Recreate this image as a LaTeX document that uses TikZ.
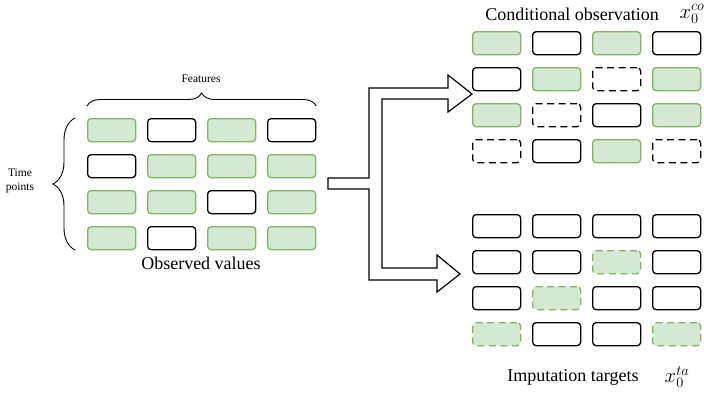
\documentclass[tikz,border=0pt]{standalone}
\usepackage{fontspec}
\setmainfont{Liberation Serif}
\usetikzlibrary{decorations.pathreplacing}

\definecolor{obsfill}{HTML}{D5E8D4}
\definecolor{obsline}{HTML}{82B366}

\tikzset{
  cellbase/.style={rectangle, rounded corners=3.5pt, minimum width=48pt, minimum height=23pt,
                   inner sep=0pt, anchor=north west, line width=1.3pt},
  cellg/.style={cellbase, draw=obsline, fill=obsfill},
  cellw/.style={cellbase, draw=black, fill=white},
  celld/.style={cellbase, draw=black, fill=white, dash pattern=on 7pt off 4.5pt},
  cellh/.style={cellbase, draw=obsline, fill=obsfill, dash pattern=on 7pt off 4.5pt},
  smalltext/.style={font=\fontsize{11.5}{13.5}\selectfont, align=center},
  bigtext/.style={font=\fontsize{18}{21}\selectfont},
  mathlabel/.style={font=\fontsize{21}{24}\selectfont},
  bracestyle/.style={draw=black, line width=0.9pt, decorate},
  splitarrow/.style={draw=black, line width=1.2pt, fill=white, line join=miter}
}

\begin{document}
\begin{tikzpicture}[x=1pt,y=-1pt]
\useasboundingbox (0,0) rectangle (704,392);

% observed values grid
\foreach \row [count=\r] in {{g,w,g,w},{w,g,g,g},{g,g,w,g},{g,w,g,g}} {
  \foreach \s [count=\c] in \row {
    \node[cell\s] (L-\r-\c) at ({87+60*(\c-1)},{118+36*(\r-1)}) {};
  }
}

% conditional observation grid
\foreach \row [count=\r] in {{g,w,g,w},{w,g,d,g},{g,d,w,g},{d,w,g,d}} {
  \foreach \s [count=\c] in \row {
    \node[cell\s] (C-\r-\c) at ({472+60*(\c-1)},{31+36*(\r-1)}) {};
  }
}

% imputation target grid
\foreach \row [count=\r] in {{w,w,w,w},{w,w,h,w},{w,h,w,w},{h,w,w,h}} {
  \foreach \s [count=\c] in \row {
    \node[cell\s] (T-\r-\c) at ({472+60*(\c-1)},{214+36*(\r-1)}) {};
  }
}

% braces
\draw[bracestyle, decoration={brace, amplitude=13pt}]
  (L-1-1.north west |- 0,106) -- (L-1-4.north east |- 0,106);
\draw[bracestyle, decoration={brace, amplitude=22pt}]
  (75,250) -- (75,118);

% labels
\node[smalltext] (features) at (201,79) {Features};
\node[smalltext] (timepts) at (20,181) {Time\\points};
\node[bigtext] (observed) at (201,263) {Observed values};
\node[bigtext] (condlabel) at (572,14) {Conditional observation};
\node[mathlabel] (colabel) at (692,14) {$x_0^{co}$};
\node[bigtext] (targlabel) at (573,377) {Imputation targets};
\node[mathlabel] (talabel) at (677,377) {$x_0^{ta}$};

% splitting block arrow
\draw[splitarrow]
  (328,178) -- (369,178) -- (369,88) -- (448,88) -- (448,75) -- (472,94)
  -- (448,112) -- (448,99) -- (382,99) -- (382,268) -- (437,268) -- (437,255)
  -- (460,274) -- (437,292) -- (437,280) -- (369,280) -- (369,189) -- (328,189) -- cycle;

\end{tikzpicture}
\end{document}
